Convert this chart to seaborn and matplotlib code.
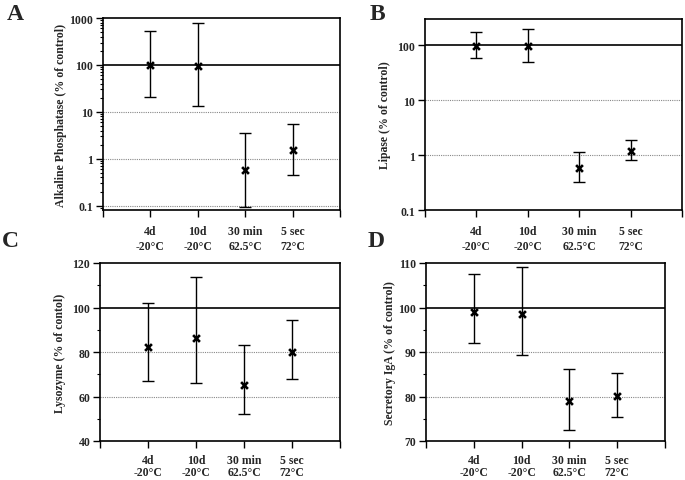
import numpy as np
import pandas as pd
import matplotlib
matplotlib.use("Agg")
import matplotlib.pyplot as plt
import matplotlib.ticker as mticker
import seaborn as sns

# Treatments (x categories)
treatments = ["4d\n-20°C", "10d\n-20°C", "30 min\n62.5°C", "5 sec\n72°C"]

# A: Alkaline phosphatase (% of control), log scale
alp_mean = [100, 97, 0.57, 1.53]
alp_low = [21, 13.5, 0.094, 0.46]
alp_high = [520, 800, 3.6, 5.6]

# B: Lipase (% of control), log scale
lip_mean = [97, 96, 0.58, 1.18]
lip_low = [59, 50, 0.33, 0.81]
lip_high = [172, 198, 1.12, 1.9]

# C: Lysozyme
lys_mean = [82.3, 86.2, 65.3, 79.9]
lys_low = [67.1, 66.2, 52.1, 67.9]
lys_high = [101.8, 113.9, 83.0, 94.5]

# D: Secretory IgA
iga_mean = [99.1, 98.5, 78.9, 80.2]
iga_low = [92.1, 89.3, 72.4, 75.5]
iga_high = [107.6, 109.1, 86.2, 85.3]

sns.set_theme(style="ticks")
plt.rcParams["font.family"] = ["Liberation Serif", "DejaVu Serif"]
plt.rcParams["font.weight"] = "bold"
plt.rcParams["axes.labelweight"] = "bold"

fig = plt.figure(figsize=(6.85, 4.81), dpi=100)


def panel(rect, mean, low, high, ylabel, letter, letter_xy, ylim, log,
          majors, dotted, label_x, minor=None, xpad=6, lsp=1.35):
    ax = fig.add_axes(rect)
    df = pd.DataFrame({"pos": np.arange(1, len(treatments) + 1),
                       "mean": mean, "low": low, "high": high})
    yerr = [df["mean"] - df["low"], df["high"] - df["mean"]]
    ax.errorbar(df["pos"], df["mean"], yerr=yerr, fmt="none",
                ecolor="black", elinewidth=1.0, capsize=4.5, capthick=1.0,
                zorder=3)
    sns.scatterplot(x="pos", y="mean", data=df, ax=ax, marker="x",
                    s=24, color="black", linewidth=1.9, zorder=4,
                    legend=False)
    if log:
        ax.set_yscale("log")
    ax.set_ylim(*ylim)
    ax.set_xlim(0, 5)
    ax.set_yticks(majors)
    ax.yaxis.set_major_formatter(mticker.FuncFormatter(
        lambda v, p: ("%g" % v)))
    if minor is None:
        ax.yaxis.set_minor_locator(mticker.NullLocator())
    else:
        ax.yaxis.set_minor_locator(minor)
    ax.set_xticks(range(0, 6))
    ax.set_xticklabels([""] + treatments + [""])
    for y in dotted:
        ax.axhline(y, color="#888888", lw=0.8, ls=(0, (1, 1)), zorder=1)
    ax.axhline(100, color="black", lw=1.2, zorder=2)
    for s in ax.spines.values():
        s.set_linewidth(1.2)
        s.set_color("black")
        s.set_visible(True)
    ax.tick_params(axis="both", which="major", direction="out", length=5,
                   width=1.0, color="black", labelsize=8.5, pad=2)
    ax.tick_params(axis="y", which="minor", direction="out", length=2.5,
                   width=0.8, color="black")
    ax.tick_params(axis="x", pad=xpad, labelsize=8.5)
    ax.set_xlabel("")
    ax.set_ylabel(ylabel, fontsize=8.5, fontweight="bold")
    ax.yaxis.set_label_coords(label_x, 0.5)
    for t in ax.get_xticklabels() + ax.get_yticklabels():
        t.set_fontweight("bold")
    for t in ax.get_xticklabels():
        t.set_linespacing(lsp)
    fig.text(letter_xy[0] / 685, 1 - letter_xy[1] / 481, letter,
             fontsize=17, fontweight="bold", ha="left", va="top")
    return ax


panel([103 / 685, 1 - 211 / 481, 237 / 685, 192 / 481],
      alp_mean, alp_low, alp_high,
      "Alkaline Phosphatase (% of control)", "A", (7, 4),
      (0.081, 1000), True, [0.1, 1, 10, 100, 1000], [0.1, 1, 10], -0.152,
      minor=mticker.LogLocator(base=10, subs=np.arange(2, 10)))

panel([425 / 685, 1 - 211 / 481, 257 / 685, 191 / 481],
      lip_mean, lip_low, lip_high,
      "Lipase (% of control)", "B", (370, 4),
      (0.1, 300), True, [0.1, 1, 10, 100], [1, 10], -0.132)

panel([100 / 685, 1 - 442 / 481, 240 / 685, 178 / 481],
      lys_mean, lys_low, lys_high,
      "Lysozyme (% of contol)", "C", (2, 231),
      (40, 120), False, [40, 60, 80, 100, 120], [60, 80], -0.142,
      minor=mticker.MultipleLocator(10), xpad=4, lsp=1.0)

panel([426 / 685, 1 - 442 / 481, 239 / 685, 178 / 481],
      iga_mean, iga_low, iga_high,
      "Secretory IgA (% of control)", "D", (368, 231),
      (70, 110), False, [70, 80, 90, 100, 110], [80, 90], -0.126,
      minor=mticker.MultipleLocator(5), xpad=4, lsp=1.0)

fig.savefig("out.png", dpi=100)
